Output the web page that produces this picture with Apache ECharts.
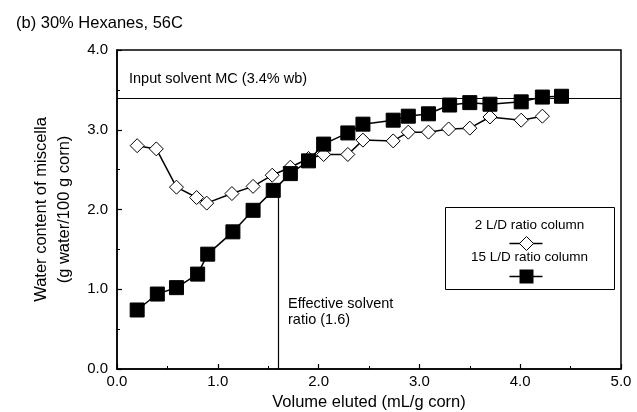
<!DOCTYPE html>
<html>
<head>
<meta charset="utf-8">
<script src="https://cdn.jsdelivr.net/npm/echarts@6/dist/echarts.min.js"></script>
<style>
  html, body { margin: 0; padding: 0; background: #fff; }
  #chart { width: 637px; height: 412px; }
</style>
</head>
<body>
<div id="chart"></div>
<script>
// 2 L/D ratio column (open diamonds)
const ld2X = [0.2, 0.39, 0.59, 0.79, 0.89, 1.14, 1.35, 1.54, 1.72, 1.9, 2.05, 2.29, 2.44, 2.74, 2.89, 3.09, 3.29, 3.5, 3.7, 4.01, 4.22]
const ld2Y = [2.8, 2.76, 2.28, 2.15, 2.08, 2.2, 2.29, 2.43, 2.53, 2.64, 2.69, 2.69, 2.87, 2.86, 2.97, 2.97, 3.01, 3.02, 3.16, 3.12, 3.17]
// 15 L/D ratio column (filled squares)
const ld15X = [0.2, 0.4, 0.59, 0.8, 0.9, 1.15, 1.35, 1.55, 1.72, 1.9, 2.05, 2.29, 2.44, 2.74, 2.89, 3.09, 3.3, 3.5, 3.7, 4.01, 4.22, 4.41]
const ld15Y = [0.74, 0.94, 1.02, 1.19, 1.44, 1.72, 1.99, 2.24, 2.45, 2.61, 2.82, 2.96, 3.07, 3.12, 3.17, 3.2, 3.31, 3.34, 3.32, 3.35, 3.41, 3.42]
const inputMC = 3.4
const effRatio = 1.6
const effRatioTop = 2.24
const xTicks = ['0.0', '1.0', '2.0', '3.0', '4.0', '5.0']
const yTicks = ['0.0', '1.0', '2.0', '3.0', '4.0']

const font = 'Liberation Sans, Arial, sans-serif'
const chart = echarts.init(document.getElementById('chart'))

const pairs = (xs, ys) => xs.map((x, i) => [x, ys[i]])

const option = {
  backgroundColor: '#fff',
  animation: false,
  textStyle: { fontFamily: font, color: '#000' },
  title: {
    text: '(b) 30% Hexanes, 56C',
    left: 11,
    top: 10,
    textStyle: { fontFamily: font, fontSize: 16.5, fontWeight: 'normal', color: '#000' }
  },
  grid: {
    left: 117,
    right: 16,
    top: 50,
    bottom: 43,
    outerBoundsMode: 'none',
    containLabel: false,
    show: true,
    borderColor: '#000',
    borderWidth: 1.5
  },
  xAxis: {
    type: 'value',
    min: 0,
    max: 5,
    interval: 1,
    name: 'Volume eluted (mL/g corn)',
    nameLocation: 'middle',
    nameGap: 25,
    nameTextStyle: { fontFamily: font, fontSize: 16.5, color: '#000' },
    axisLine: { lineStyle: { color: '#000', width: 1.5 } },
    axisTick: { inside: true, length: 5, lineStyle: { color: '#000', width: 1.2 } },
    minorTick: { show: true, splitNumber: 2, length: 3, lineStyle: { color: '#000' } },
    splitLine: { show: false },
    axisLabel: {
      fontFamily: font, fontSize: 15, color: '#000', margin: 5,
      formatter: v => xTicks[Math.round(v)]
    }
  },
  yAxis: {
    type: 'value',
    min: 0,
    max: 4,
    interval: 1,
    name: 'Water content of miscella\n(g water/100 g corn)',
    nameLocation: 'middle',
    nameGap: 34,
    nameTextStyle: { fontFamily: font, fontSize: 16.5, color: '#000', lineHeight: 23 },
    axisLine: { lineStyle: { color: '#000', width: 1.5 } },
    axisTick: { inside: true, length: 5, lineStyle: { color: '#000', width: 1.2 } },
    minorTick: { show: true, splitNumber: 2, length: 3, lineStyle: { color: '#000' } },
    splitLine: { show: false },
    axisLabel: {
      fontFamily: font, fontSize: 15, color: '#000', margin: 9,
      formatter: v => yTicks[Math.round(v)]
    }
  },
  series: [
    {
      name: '2 L/D ratio column',
      type: 'line',
      data: pairs(ld2X, ld2Y),
      symbol: 'diamond',
      symbolSize: 14,
      lineStyle: { color: '#000', width: 1.5 },
      itemStyle: { color: '#fff', borderColor: '#000', borderWidth: 1 },
      z: 2,
      markLine: {
        silent: true,
        symbol: 'none',
        lineStyle: { color: '#000', width: 1.2, type: 'solid' },
        label: { show: false },
        data: [
          { yAxis: inputMC },
          [{ coord: [effRatio, 0] }, { coord: [effRatio, effRatioTop] }]
        ]
      }
    },
    {
      name: '15 L/D ratio column',
      type: 'line',
      data: pairs(ld15X, ld15Y),
      symbol: 'rect',
      symbolSize: 14,
      lineStyle: { color: '#000', width: 1.5 },
      itemStyle: { color: '#000', borderColor: '#000' },
      z: 3
    }
  ],
  graphic: [
    {
      type: 'text', left: 129, top: 71,
      style: { text: 'Input solvent MC (3.4% wb)', font: '14.5px ' + font, fill: '#000' }
    },
    {
      type: 'text', left: 288, top: 296,
      style: { text: 'Effective solvent\nratio (1.6)', font: '14.5px ' + font, fill: '#000', lineHeight: 16 }
    },
    {
      type: 'group', left: 445, top: 207,
      children: [
        { type: 'rect', shape: { x: 0, y: 0, width: 169, height: 82 },
          style: { fill: '#fff', stroke: '#000', lineWidth: 1 } },
        { type: 'text', x: 84, y: 18,
          style: { text: '2 L/D ratio column', font: '13.5px ' + font, fill: '#000', align: 'center', verticalAlign: 'middle' } },
        { type: 'line', shape: { x1: 64, y1: 36, x2: 97, y2: 36 }, style: { stroke: '#000', lineWidth: 1.5 } },
        { type: 'polygon', shape: { points: [[81, 29], [88, 36], [81, 43], [74, 36]] },
          style: { fill: '#fff', stroke: '#000', lineWidth: 1 } },
        { type: 'text', x: 84, y: 50,
          style: { text: '15 L/D ratio column', font: '13.5px ' + font, fill: '#000', align: 'center', verticalAlign: 'middle' } },
        { type: 'line', shape: { x1: 64, y1: 69, x2: 97, y2: 69 }, style: { stroke: '#000', lineWidth: 1.5 } },
        { type: 'rect', shape: { x: 74, y: 62, width: 14, height: 14 }, style: { fill: '#000' } }
      ]
    }
  ]
}

chart.setOption(option)
</script>
</body>
</html>
